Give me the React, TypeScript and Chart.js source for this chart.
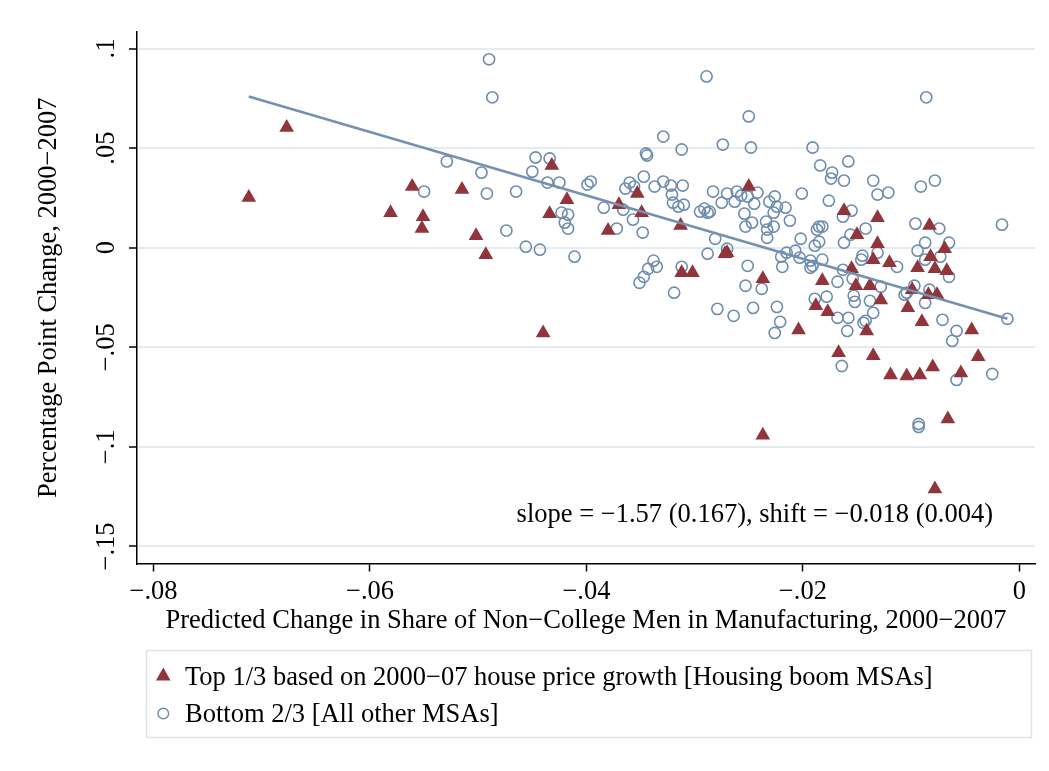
import React, { useEffect, useRef } from 'react';
import { Chart, registerables } from 'chart.js';

Chart.register(...registerables);

// ---------- data ----------
const boomX = [
  -0.0712, -0.0677, -0.0581, -0.0561, -0.0551, -0.0552, -0.0515, -0.0502, -0.0493, -0.0440,
  -0.0432, -0.0434, -0.0418, -0.0380, -0.0370, -0.0353, -0.0349, -0.0313, -0.0312, -0.0302,
  -0.0272, -0.0270, -0.0250, -0.0237, -0.0237, -0.0204, -0.0188, -0.0182, -0.0177, -0.0167,
  -0.0162, -0.0155, -0.0150, -0.0151, -0.0141, -0.0138, -0.0135, -0.0135, -0.0131, -0.0131,
  -0.0128, -0.0120, -0.0119, -0.0104, -0.0103, -0.0099, -0.0094, -0.0092, -0.0090, -0.0084,
  -0.0083, -0.0082, -0.0080, -0.0078, -0.0078, -0.0076, -0.0069, -0.0067, -0.0066, -0.0054,
  -0.0044, -0.0038,
];
const boomY = [
  0.0252, 0.0604, 0.0176, 0.0307, 0.0156, 0.0096, 0.0292, 0.0060, -0.0035, -0.0428,
  0.0413, 0.0171, 0.0241, 0.0086, 0.0216, 0.0272, 0.0176, 0.0111, -0.0126, -0.0126,
  -0.0030, -0.0025, 0.0307, -0.0156, -0.0941, -0.0413, -0.0292, -0.0166, -0.0322, -0.0528,
  0.0186, -0.0106, 0.0065, -0.0191, -0.0418, -0.0191, -0.0060, -0.0543, 0.0020, 0.0151,
  -0.0262, -0.0076, -0.0639, -0.0644, -0.0302, -0.0211, -0.0101, -0.0639, -0.0372, -0.0236,
  0.0111, -0.0045, -0.0599, -0.0106, -0.1212, -0.0236, -0.0005, -0.0116, -0.0860, -0.0629,
  -0.0413, -0.0548,
];
const otherX = [
  -0.0490, -0.0487, -0.0529, -0.0497, -0.0550, -0.0492, -0.0474, -0.0465, -0.0447, -0.0450,
  -0.0434, -0.0436, -0.0425, -0.0423, -0.0417, -0.0420, -0.0417, -0.0456, -0.0443, -0.0411,
  -0.0399, -0.0396, -0.0384, -0.0372, -0.0366, -0.0364, -0.0360, -0.0356, -0.0357, -0.0348,
  -0.0347, -0.0345, -0.0344, -0.0329, -0.0312, -0.0337, -0.0329, -0.0322, -0.0311, -0.0321,
  -0.0320, -0.0315, -0.0310, -0.0295, -0.0338, -0.0343, -0.0335, -0.0347, -0.0351, -0.0319,
  -0.0312, -0.0289, -0.0250, -0.0274, -0.0248, -0.0191, -0.0184, -0.0173, -0.0174, -0.0158,
  -0.0162, -0.0283, -0.0270, -0.0275, -0.0263, -0.0261, -0.0257, -0.0242, -0.0251, -0.0245,
  -0.0291, -0.0288, -0.0286, -0.0254, -0.0253, -0.0247, -0.0231, -0.0226, -0.0224, -0.0216,
  -0.0227, -0.0234, -0.0233, -0.0233, -0.0227, -0.0212, -0.0201, -0.0176, -0.0185, -0.0187,
  -0.0182, -0.0202, -0.0185, -0.0189, -0.0162, -0.0156, -0.0155, -0.0163, -0.0281, -0.0270,
  -0.0288, -0.0251, -0.0220, -0.0215, -0.0207, -0.0219, -0.0203, -0.0193, -0.0191, -0.0193,
  -0.0182, -0.0168, -0.0253, -0.0238, -0.0178, -0.0189, -0.0153, -0.0279, -0.0246, -0.0224,
  -0.0264, -0.0221, -0.0226, -0.0152, -0.0168, -0.0158, -0.0159, -0.0164, -0.0086, -0.0135,
  -0.0131, -0.0121, -0.0091, -0.0078, -0.0142, -0.0096, -0.0074, -0.0016, -0.0087, -0.0065,
  -0.0094, -0.0087, -0.0073, -0.0145, -0.0146, -0.0131, -0.0113, -0.0163, -0.0154, -0.0065,
  -0.0128, -0.0097, -0.0106, -0.0104, -0.0083, -0.0087, -0.0138, -0.0011, -0.0071, -0.0058,
  -0.0062, -0.0025, -0.0058, -0.0093, -0.0093, -0.0144, -0.0142, -0.0135,
];
const otherY = [
  0.0946, 0.0755, 0.0433, 0.0377, 0.0282, 0.0272, 0.0086, 0.0282, 0.0453, 0.0382,
  0.0448, 0.0327, 0.0327, 0.0176, 0.0166, 0.0126, 0.0096, 0.0005, -0.0010, -0.0045,
  0.0317, 0.0332, 0.0201, 0.0096, 0.0191, 0.0297, 0.0327, 0.0307, 0.0141, 0.0076,
  0.0357, 0.0473, 0.0463, 0.0558, 0.0493, 0.0307, 0.0332, 0.0312, 0.0312, 0.0267,
  0.0226, 0.0206, 0.0216, 0.0181, -0.0065, -0.0106, -0.0096, -0.0146, -0.0176, -0.0226,
  -0.0096, 0.0860, 0.0659, 0.0518, 0.0503, 0.0503, 0.0413, 0.0377, 0.0347, 0.0433,
  0.0337, 0.0282, 0.0272, 0.0226, 0.0231, 0.0282, 0.0262, 0.0277, 0.0257, 0.0221,
  0.0196, 0.0176, 0.0181, 0.0171, 0.0106, 0.0126, 0.0231, 0.0257, 0.0206, 0.0201,
  0.0176, 0.0131, 0.0091, 0.0050, 0.0106, 0.0136, 0.0272, 0.0236, 0.0106, 0.0091,
  0.0106, 0.0045, 0.0030, 0.0010, 0.0025, 0.0065, 0.0186, 0.0156, 0.0045, -0.0005,
  -0.0030, -0.0091, -0.0045, -0.0025, -0.0015, -0.0096, -0.0050, -0.0065, -0.0091, -0.0101,
  -0.0060, -0.0171, -0.0191, -0.0206, -0.0246, -0.0257, -0.0241, -0.0307, -0.0302, -0.0297,
  -0.0342, -0.0372, -0.0428, -0.0272, -0.0352, -0.0352, -0.0418, -0.0594, 0.0755, 0.0337,
  0.0267, 0.0277, 0.0307, 0.0337, 0.0096, 0.0121, 0.0096, 0.0116, 0.0025, 0.0025,
  -0.0015, -0.0060, -0.0045, -0.0040, -0.0060, -0.0025, -0.0096, -0.0111, -0.0156, -0.0146,
  -0.0196, -0.0191, -0.0236, -0.0226, -0.0211, -0.0277, -0.0267, -0.0357, -0.0362, -0.0418,
  -0.0468, -0.0634, -0.0664, -0.0885, -0.0900, -0.0377, -0.0367, -0.0327,
];
const fitX = [-0.0712, -0.0011];
const fitY = [0.0759, -0.0357];

const xTicks = [-0.08, -0.06, -0.04, -0.02, 0];
const xTickLabels = ['\u2212.08', '\u2212.06', '\u2212.04', '\u2212.02', '0'];
const yTicks = [-0.15, -0.1, -0.05, 0, 0.05, 0.1];
const yTickLabels = ['\u2212.15', '\u2212.1', '\u2212.05', '0', '.05', '.1'];

const seriesLabels = [
  'Top 1/3 based on 2000\u221207 house price growth [Housing boom MSAs]',
  'Bottom 2/3 [All other MSAs]',
];
const xTitle = 'Predicted Change in Share of Non\u2212College Men in Manufacturing, 2000\u22122007';
const yTitle = 'Percentage Point Change, 2000\u22122007';
const noteText = 'slope = \u22121.57 (0.167), shift = \u22120.018 (0.004)';

// ---------- styles ----------
const FONT = '"Liberation Serif", "Times New Roman", serif';
const FSIZE = 26.5;
const RED = '#90353B';
const BLUE = '#6E8DAE';
const LINE = '#7690AE';
const GRID = '#E4ECF1';

const fmt = (ticks: number[], labels: string[]) => (value: number | string) => {
  const v = Number(value);
  const i = ticks.findIndex((t) => Math.abs(t - v) < 1e-9);
  return i >= 0 ? labels[i] : '';
};

const extrasPlugin = {
  id: 'extras',
  afterDraw(chart: any) {
    const ctx = chart.ctx as CanvasRenderingContext2D;
    ctx.save();
    ctx.font = `${FSIZE}px ${FONT}`;
    ctx.fillStyle = '#000';
    ctx.textBaseline = 'alphabetic';
    ctx.textAlign = 'right';
    ctx.fillText(noteText, 993, 522);

    // legend box
    ctx.strokeStyle = '#DCE5EB';
    ctx.lineWidth = 1.5;
    ctx.strokeRect(146.5, 650.5, 885, 87);

    // triangle marker
    ctx.fillStyle = RED;
    ctx.beginPath();
    ctx.moveTo(163.3, 667.5);
    ctx.lineTo(170.6, 680.5);
    ctx.lineTo(156, 680.5);
    ctx.closePath();
    ctx.fill();

    // circle marker
    ctx.strokeStyle = BLUE;
    ctx.lineWidth = 1.5;
    ctx.beginPath();
    ctx.arc(163.3, 713.5, 5.3, 0, Math.PI * 2);
    ctx.stroke();

    ctx.fillStyle = '#000';
    ctx.textAlign = 'left';
    ctx.fillText(seriesLabels[0], 185, 685);
    ctx.fillText(seriesLabels[1], 185, 721.5);
    ctx.restore();
  },
};

export default function App() {
  const ref = useRef<HTMLCanvasElement | null>(null);

  useEffect(() => {
    if (!ref.current) return;
    const font = { family: FONT, size: FSIZE };
    const chart = new Chart(ref.current, {
      type: 'scatter',
      data: {
        datasets: [
          {
            label: 'fit',
            data: fitX.map((x, i) => ({ x, y: fitY[i] })),
            showLine: true,
            pointRadius: 0,
            borderColor: LINE,
            borderWidth: 2.5,
            order: 0,
          },
          {
            label: seriesLabels[0],
            data: boomX.map((x, i) => ({ x, y: boomY[i] })),
            pointStyle: 'triangle',
            pointRadius: 8.5,
            backgroundColor: RED,
            borderColor: RED,
            borderWidth: 0,
            order: 1,
          },
          {
            label: seriesLabels[1],
            data: otherX.map((x, i) => ({ x, y: otherY[i] })),
            pointStyle: 'circle',
            pointRadius: 5.6,
            backgroundColor: 'rgba(0,0,0,0)',
            borderColor: BLUE,
            borderWidth: 1.6,
            order: 2,
          },
        ],
      },
      options: {
        animation: false,
        responsive: false,
        events: [],
        layout: { padding: { left: 0, top: 32, right: 14, bottom: 117.5 } },
        plugins: { legend: { display: false }, tooltip: { enabled: false } },
        scales: {
          x: {
            type: 'linear',
            min: -0.08153,
            max: 0.00145,
            afterBuildTicks: (s: any) => {
              s.ticks = xTicks.map((value) => ({ value }));
            },
            afterFit: (s: any) => {
              s.height = 90;
            },
            grid: {
              display: true,
              drawOnChartArea: false,
              drawTicks: true,
              tickLength: 8,
              tickColor: '#000',
              tickWidth: 1.5,
            },
            border: { display: true, color: '#000', width: 1.5 },
            ticks: {
              font,
              color: '#000',
              padding: 5,
              autoSkip: false,
              maxRotation: 0,
              minRotation: 0,
              callback: fmt(xTicks, xTickLabels),
            },
            title: {
              display: true,
              text: xTitle,
              font,
              color: '#000',
              padding: { top: 0, bottom: 17 },
            },
          },
          y: {
            type: 'linear',
            min: -0.15855,
            max: 0.1083,
            afterBuildTicks: (s: any) => {
              s.ticks = yTicks.map((value) => ({ value }));
            },
            afterFit: (s: any) => {
              s.width = 137;
            },
            grid: {
              display: true,
              drawOnChartArea: true,
              color: GRID,
              lineWidth: 2,
              drawTicks: true,
              tickLength: 8,
              tickColor: '#000',
              tickWidth: 1.5,
            },
            border: { display: true, color: '#000', width: 1.5 },
            ticks: {
              font,
              color: '#000',
              padding: -2,
              autoSkip: false,
              minRotation: 90,
              maxRotation: 90,
              crossAlign: 'center',
              callback: fmt(yTicks, yTickLabels),
            },
            title: {
              display: true,
              text: yTitle,
              font,
              color: '#000',
              padding: { top: 33, bottom: 0 },
            },
          },
        },
      },
      plugins: [extrasPlugin],
    } as any);
    return () => chart.destroy();
  }, []);

  return (
    <div style={{ position: 'absolute', left: 0, top: 0, width: 1049, height: 771, background: '#fff' }}>
      <canvas ref={ref} width={1049} height={771} style={{ display: 'block', width: 1049, height: 771 }} />
    </div>
  );
}
